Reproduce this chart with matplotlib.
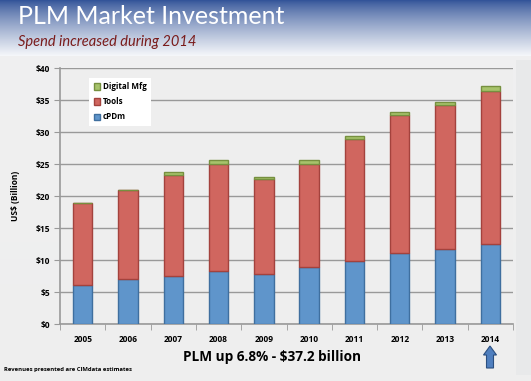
import numpy as np
import matplotlib
matplotlib.use("Agg")
import matplotlib.pyplot as plt
from matplotlib.patches import FancyArrow

plt.rcParams['font.family'] = ['Lato', 'DejaVu Sans']
BOLD = ['Open Sans', 'DejaVu Sans']

# data (US$ billion)
years = ['2005', '2006', '2007', '2008', '2009', '2010', '2011', '2012', '2013', '2014']
cpdm = [6.1, 7.0, 7.5, 8.3, 7.9, 8.9, 9.9, 11.2, 11.8, 12.6]
tools = [12.9, 14.0, 15.75, 16.75, 14.7, 16.15, 19.0, 21.5, 22.5, 23.85]
digital = [0.0, 0.0, 0.45, 0.55, 0.45, 0.55, 0.5, 0.5, 0.45, 0.75]
yticks = [0, 5, 10, 15, 20, 25, 30, 35, 40]

W, H = 531, 381
fig = plt.figure(figsize=(W / 100, H / 100), dpi=100)

# background: blue header fading to white, light grey body
bg = fig.add_axes([0, 0, 1, 1], zorder=-1)
top = np.array([0.20, 0.33, 0.60])
white = np.array([0.97, 0.975, 0.985])
grey = np.array([0.935, 0.935, 0.935])
img = np.zeros((H, W, 3))
for r in range(H):
    if r < 56:
        t = (r / 56) ** 0.8
        img[r, :] = top * (1 - t) + white * t
    else:
        t = (r - 56) / (H - 56)
        img[r, :] = white * (1 - t) * 0.15 + grey * (0.85 + 0.15 * t)
img[60:375, 516:] = np.array([0.91, 0.915, 0.92])
bg.imshow(img, aspect='auto', extent=[0, W, H, 0])
bg.set_xlim(0, W)
bg.set_ylim(H, 0)
bg.axis('off')

fig.text(18 / W, 1 - 17 / H, 'PLM Market Investment', color='white',
         fontsize=18, va='center', ha='left')
fig.text(18 / W, 1 - 42 / H, 'Spend increased during 2014', color='#7a1c1c',
         fontsize=10.5, style='italic', va='center', ha='left')

# chart
ax = fig.add_axes([60 / W, 56.7 / H, 453 / W, 256.3 / H])
ax.set_facecolor('#eeeeee')
x = np.arange(len(years))
w = 0.43
b1 = np.array(cpdm)
b2 = b1 + np.array(tools)
ax.bar(x, cpdm, w, color='#5f95cb', edgecolor='#3f6f9f', lw=1, label='cPDm', zorder=3)
ax.bar(x, tools, w, bottom=b1, color='#d0665f', edgecolor='#a3423d', lw=1, label='Tools', zorder=3)
ax.bar(x, digital, w, bottom=b2, color='#a7c36b', edgecolor='#76903f', lw=1, label='Digital Mfg', zorder=3)

ax.set_xlim(-0.5, len(years) - 0.5)
ax.set_ylim(0, 40)
ax.set_yticks(yticks)
ax.set_yticklabels(['$%d' % v for v in yticks], fontsize=6, fontweight='bold', family=BOLD)
ax.set_xticks(x)
ax.set_xticklabels(years, fontsize=6, fontweight='bold', family=BOLD)
ax.tick_params(axis='x', length=0, pad=8)
ax.set_xticks(np.arange(-0.5, len(years)), minor=True)
ax.tick_params(axis='x', which='minor', length=4, color='#999999', direction='out')
ax.tick_params(axis='y', length=4, color='#999999', direction='out', pad=3)
ax.grid(axis='y', color='#999999', lw=1)
ax.set_axisbelow(True)
for s in ['top', 'right']:
    ax.spines[s].set_visible(False)
for s in ['left', 'bottom']:
    ax.spines[s].set_color('#999999')
    ax.spines[s].set_linewidth(1.2)
ax.set_ylabel('US$ (Billion)', fontsize=6, fontweight='bold', family=BOLD, labelpad=11)

handles, labels = ax.get_legend_handles_labels()
leg = ax.legend(handles[::-1], labels[::-1], loc='upper left',
                bbox_to_anchor=(29 / 453, 1 - 9.5 / 256.3), frameon=True,
                fancybox=False, edgecolor='white', facecolor='white', framealpha=1,
                prop={'size': 5.8, 'weight': 'bold', 'family': BOLD},
                handlelength=0.8, handleheight=0.8,
                handletextpad=0.3, labelspacing=0.75, borderpad=0.6, borderaxespad=0)
leg.get_frame().set_linewidth(0)

fig.text(272 / W, 1 - 357 / H, 'PLM up 6.8% - $37.2 billion', fontsize=9.8,
         fontweight='bold', family=BOLD, ha='center', va='center')
fig.text(4 / W, 1 - 369 / H, 'Revenues presented are CIMdata estimates', fontsize=4.2,
         fontweight='bold', family=BOLD, ha='left', va='center')

# up arrow under 2014
arr = FancyArrow(490, 368, 0, -22, width=7, head_width=13, head_length=9,
                 length_includes_head=True, transform=bg.transData,
                 facecolor='#4f7fbf', edgecolor='#2b4f80', lw=0.8)
bg.add_patch(arr)

fig.savefig('out.png', dpi=100)
